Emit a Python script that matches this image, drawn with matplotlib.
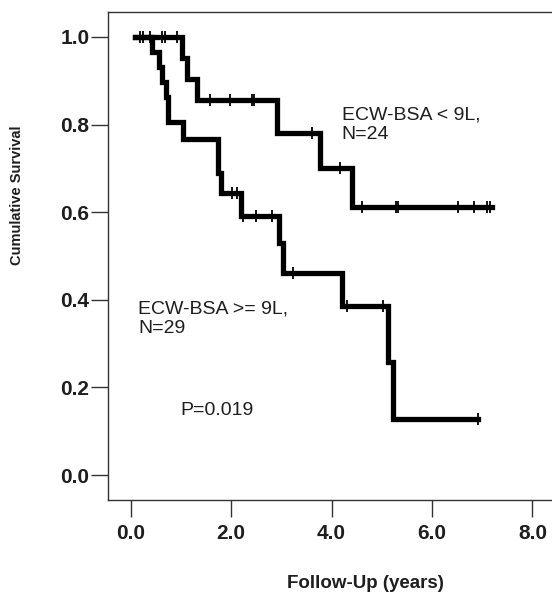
import numpy as np
from matplotlib import pyplot as plt

# Kaplan-Meier steps
low_ecw_times = [0.08, 1.02, 1.12, 1.32, 2.91, 3.77, 4.40, 7.20]
low_ecw_surv = [1.0, 0.952, 0.905, 0.855, 0.781, 0.702, 0.611, 0.611]
low_ecw_censor = [0.18, 0.24, 0.62, 0.69, 0.93, 1.58, 1.98, 2.41, 2.46, 3.61, 4.17,
                  4.60, 5.29, 5.33, 6.51, 6.84, 7.10, 7.16]

high_ecw_times = [0.08, 0.42, 0.57, 0.62, 0.70, 0.75, 1.05, 1.75, 1.80, 2.20, 2.95,
                  3.04, 4.20, 5.13, 5.23, 6.92]
high_ecw_surv = [1.0, 0.966, 0.931, 0.897, 0.862, 0.805, 0.766, 0.690, 0.644, 0.592,
                 0.530, 0.462, 0.386, 0.257, 0.129, 0.129]
high_ecw_censor = [0.39, 2.02, 2.11, 2.24, 2.50, 2.81, 3.24, 4.30, 5.03, 6.92]

x_ticks = [0, 2, 4, 6, 8]
y_ticks = [0.0, 0.2, 0.4, 0.6, 0.8, 1.0]

plt.rcParams['font.family'] = ['Liberation Sans', 'DejaVu Sans']
text_color = '#1e1e1e'

fig = plt.figure(figsize=(5.52, 5.94), dpi=100)
ax = fig.add_axes([108 / 552, 94 / 594, 447 / 552, 488 / 594])


def step_value(times, surv, t):
    idx = np.searchsorted(times, t, side='right') - 1
    return np.asarray(surv)[idx]


for times, surv, cens in [(low_ecw_times, low_ecw_surv, low_ecw_censor),
                          (high_ecw_times, high_ecw_surv, high_ecw_censor)]:
    ax.step(times, surv, where='post', color='black', lw=3.8, solid_joinstyle='miter')
    ax.plot(cens, step_value(times, surv, cens), linestyle='none', marker='|',
            color='black', markersize=9, markeredgewidth=1.3)

ax.set_xlim(-0.45, 8.45)
ax.set_ylim(-0.057, 1.057)
ax.set_xticks(x_ticks)
ax.set_yticks(y_ticks)
ax.set_xticklabels([f'{v:.1f}' for v in x_ticks])
ax.set_yticklabels([f'{v:.1f}' for v in y_ticks])
ax.tick_params(axis='both', direction='out', length=12, width=1.0, colors='#333333',
               labelcolor=text_color, labelsize=15)
ax.tick_params(axis='x', pad=5)
ax.tick_params(axis='y', pad=1.5)
for lab in ax.get_xticklabels() + ax.get_yticklabels():
    lab.set_fontweight('bold')
for side in ['left', 'bottom', 'top', 'right']:
    ax.spines[side].set_linewidth(1.0)
    ax.spines[side].set_color('#333333')

ax.text(4.2, 0.799, 'ECW-BSA < 9L,\nN=24', fontsize=14, color=text_color,
        va='center', ha='left', linespacing=1.2)
ax.text(0.15, 0.357, 'ECW-BSA >= 9L,\nN=29', fontsize=14, color=text_color,
        va='center', ha='left', linespacing=1.2)
ax.text(2.44, 0.148, 'P=0.019', fontsize=14, color=text_color, va='center', ha='right')

fig.text(365 / 552, 1 - 583 / 594, 'Follow-Up (years)', fontsize=13.5, fontweight='bold',
         color=text_color, ha='center', va='center')
fig.text(17 / 552, 1 - 195 / 594, 'Cumulative Survival', fontsize=10.5, fontweight='bold',
         color=text_color, ha='center', va='center', rotation=90)

fig.savefig('out.png', dpi=100)
